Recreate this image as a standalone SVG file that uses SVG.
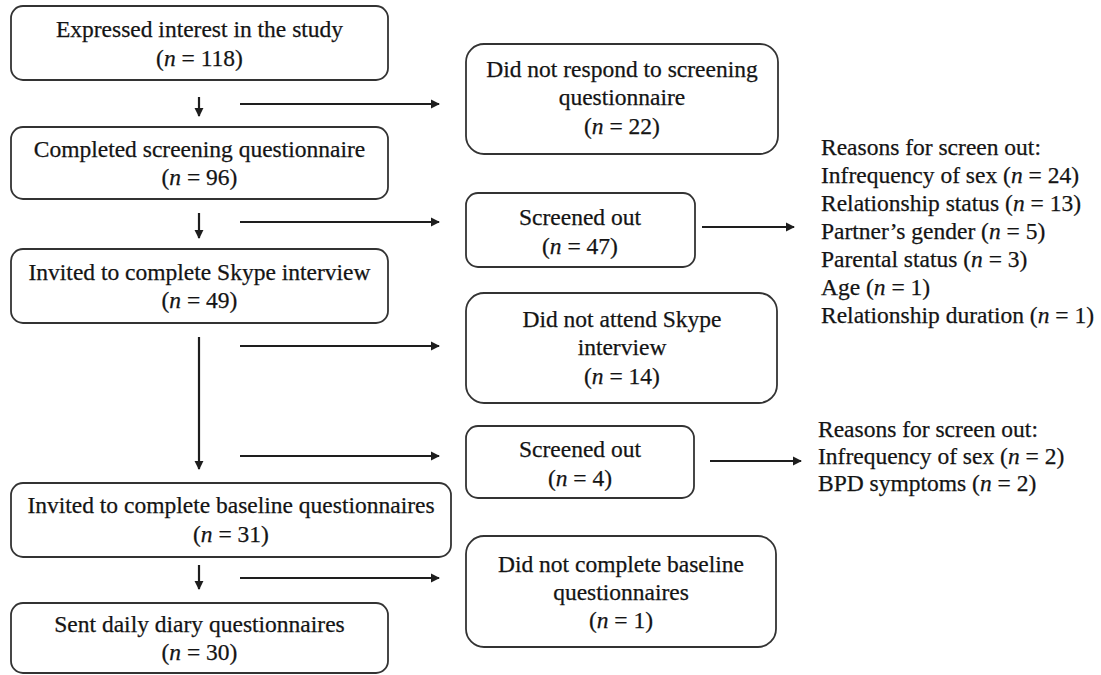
<svg xmlns="http://www.w3.org/2000/svg" width="1101" height="675" viewBox="0 0 1101 675">
<defs>
<style>
.box{fill:#fff;stroke:#333;stroke-width:1.8}
text{font-family:"Liberation Serif","Times New Roman",serif;font-size:23.5px;fill:#141414;stroke:#141414;stroke-width:0.25}
.c{text-anchor:middle}
.i{font-style:italic}
.ln{stroke:#1e1e1e;stroke-width:2.2;fill:none;marker-end:url(#ah)}
</style>
<marker id="ah" viewBox="0 0 10 10" refX="9" refY="5" markerWidth="4.2" markerHeight="4.2" orient="auto" markerUnits="strokeWidth">
<path d="M0,0 L10,5 L0,10 z" fill="#1e1e1e"/>
</marker>
</defs>
<rect width="1101" height="675" fill="#fff"/>
<g id="connectors">
<line class="ln" x1="199" y1="97" x2="199" y2="116"/>
<line class="ln" x1="240" y1="104" x2="439" y2="104"/>
<line class="ln" x1="199" y1="213" x2="199" y2="238"/>
<line class="ln" x1="240" y1="222" x2="439" y2="222"/>
<line class="ln" x1="702" y1="227" x2="794" y2="227"/>
<line class="ln" x1="199" y1="337" x2="199" y2="469"/>
<line class="ln" x1="240" y1="346" x2="439" y2="346"/>
<line class="ln" x1="240" y1="456" x2="439" y2="456"/>
<line class="ln" x1="710" y1="461" x2="801" y2="461"/>
<line class="ln" x1="199" y1="565" x2="199" y2="589"/>
<line class="ln" x1="240" y1="578" x2="439" y2="578"/>
</g>
<g id="n1">
<rect class="box" x="11" y="6" width="377" height="74" rx="12"/>
<text class="c" x="199.5" y="37">Expressed interest in the study</text>
<text class="c" x="199.5" y="66">(<tspan class="i">n</tspan> = 118)</text>
</g>
<g id="n2">
<rect class="box" x="11" y="127" width="377" height="72" rx="12"/>
<text class="c" x="199.5" y="157">Completed screening questionnaire</text>
<text class="c" x="199.5" y="185">(<tspan class="i">n</tspan> = 96)</text>
</g>
<g id="n3">
<rect class="box" x="11" y="249" width="377" height="74" rx="12"/>
<text class="c" x="199.5" y="280">Invited to complete Skype interview</text>
<text class="c" x="199.5" y="308">(<tspan class="i">n</tspan> = 49)</text>
</g>
<g id="n4">
<rect class="box" x="11" y="483" width="440" height="74" rx="12"/>
<text class="c" x="231" y="513">Invited to complete baseline questionnaires</text>
<text class="c" x="231" y="542">(<tspan class="i">n</tspan> = 31)</text>
</g>
<g id="n5">
<rect class="box" x="11" y="603" width="377" height="70" rx="12"/>
<text class="c" x="199.5" y="632">Sent daily diary questionnaires</text>
<text class="c" x="199.5" y="660">(<tspan class="i">n</tspan> = 30)</text>
</g>
<g id="r1">
<rect class="box" x="466" y="44" width="312" height="110" rx="18"/>
<text class="c" x="622" y="77">Did not respond to screening</text>
<text class="c" x="622" y="105">questionnaire</text>
<text class="c" x="622" y="134">(<tspan class="i">n</tspan> = 22)</text>
</g>
<g id="r2">
<rect class="box" x="466" y="193" width="229" height="74" rx="12"/>
<text class="c" x="580" y="225">Screened out</text>
<text class="c" x="580" y="254">(<tspan class="i">n</tspan> = 47)</text>
</g>
<g id="r3">
<rect class="box" x="466" y="293" width="311" height="110" rx="18"/>
<text class="c" x="622" y="327">Did not attend Skype</text>
<text class="c" x="622" y="355">interview</text>
<text class="c" x="622" y="384">(<tspan class="i">n</tspan> = 14)</text>
</g>
<g id="r4">
<rect class="box" x="466" y="426" width="228" height="72" rx="12"/>
<text class="c" x="580" y="457">Screened out</text>
<text class="c" x="580" y="486">(<tspan class="i">n</tspan> = 4)</text>
</g>
<g id="r5">
<rect class="box" x="466" y="536" width="310" height="111" rx="18"/>
<text class="c" x="621" y="572">Did not complete baseline</text>
<text class="c" x="621" y="600">questionnaires</text>
<text class="c" x="621" y="628">(<tspan class="i">n</tspan> = 1)</text>
</g>
<g id="reasons1">
<text x="821" y="155">Reasons for screen out:</text>
<text x="821" y="183">Infrequency of sex (<tspan class="i">n</tspan> = 24)</text>
<text x="821" y="211">Relationship status (<tspan class="i">n</tspan> = 13)</text>
<text x="821" y="239">Partner’s gender (<tspan class="i">n</tspan> = 5)</text>
<text x="821" y="267">Parental status (<tspan class="i">n</tspan> = 3)</text>
<text x="821" y="295">Age (<tspan class="i">n</tspan> = 1)</text>
<text x="821" y="323">Relationship duration (<tspan class="i">n</tspan> = 1)</text>
</g>
<g id="reasons2">
<text x="818" y="437">Reasons for screen out:</text>
<text x="818" y="464">Infrequency of sex (<tspan class="i">n</tspan> = 2)</text>
<text x="818" y="491">BPD symptoms (<tspan class="i">n</tspan> = 2)</text>
</g>
</svg>
